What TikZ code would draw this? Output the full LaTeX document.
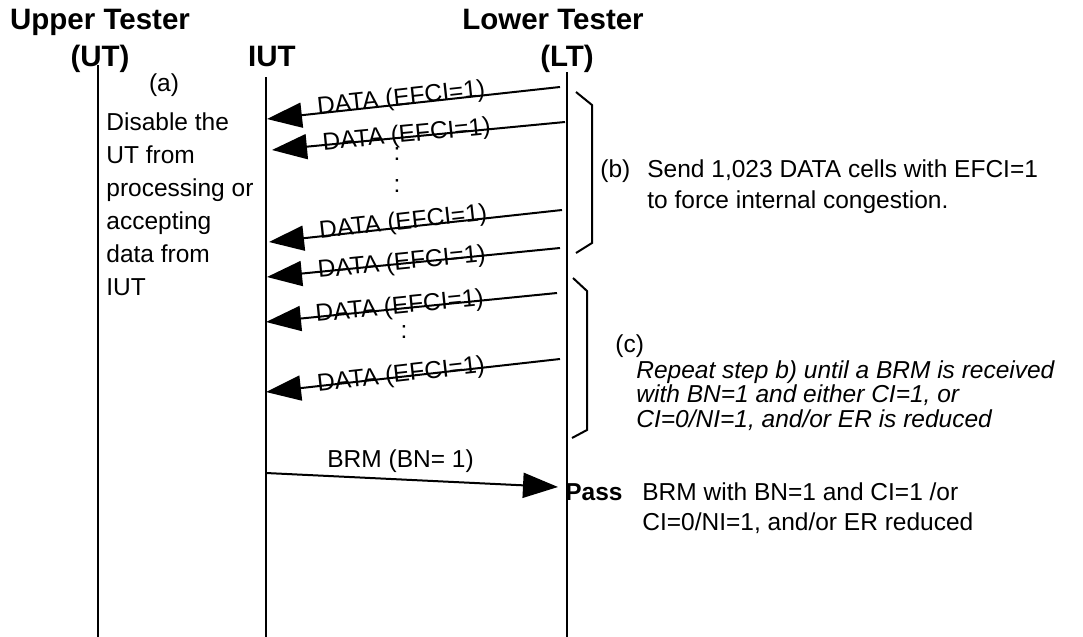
\documentclass[tikz,border=0pt]{standalone}
\usepackage{fontspec}
\setmainfont{Liberation Sans}
\usetikzlibrary{arrows.meta}

\begin{document}
\begin{tikzpicture}[x=0.5pt,y=0.5pt]
\tikzstyle{every node}+=[inner sep=0pt]
\tikzstyle{life}=[line width=1pt]
\tikzstyle{msg}=[line width=1pt,-{Triangle[length=17.5pt,width=12.5pt]}]
\tikzstyle{hdr}=[font=\fontsize{14.75}{17}\selectfont\bfseries,anchor=base]
\tikzstyle{txt}=[font=\fontsize{12.25}{15}\selectfont,anchor=base west,align=left]
\tikzstyle{lbl}=[font=\fontsize{12.25}{15}\selectfont,sloped,anchor=base,pos=0.54,yshift=-2.5pt]
\useasboundingbox (0,0) rectangle (1083,-637);
% testers
\node [hdr] (uthead) at (100,-30) {Upper Tester};
\node [hdr] (utname) at (100,-67) {(UT)};
\node [hdr] (iutname) at (272,-67) {IUT};
\node [hdr] (lthead) at (553,-30) {Lower Tester};
\node [hdr] (ltname) at (567,-67) {(LT)};
\coordinate (uttop) at (98,-65);
\coordinate (utbot) at (98,-637);
\coordinate (iuttop) at (266,-77);
\coordinate (iutbot) at (266,-637);
\coordinate (lttop) at (567,-72);
\coordinate (ltbot) at (567,-637);
\draw [life] (uttop) -- (utbot);
\draw [life] (iuttop) -- (iutbot);
\draw [life] (lttop) -- (ltbot);
% step (a), last line is the base
\node [txt,anchor=base] (stepa) at (164,-91) {(a)};
\node [txt,font=\fontsize{12.25}{16.5}\selectfont] (disable) at (106,-295) {Disable the\\UT from\\processing or\\accepting\\data from\\IUT};
% DATA cells
\coordinate (d1a) at (560,-87);
\coordinate (d1b) at (267,-119);
\coordinate (d2a) at (565,-122);
\coordinate (d2b) at (272,-150);
\coordinate (d3a) at (562,-210);
\coordinate (d3b) at (269,-242);
\coordinate (d4a) at (560,-248);
\coordinate (d4b) at (267,-277);
\coordinate (d5a) at (557,-293);
\coordinate (d5b) at (266,-322);
\coordinate (d6a) at (560,-359);
\coordinate (d6b) at (266,-392);
\draw [msg] (d1a) -- (d1b) node [lbl,yshift=2pt] {DATA (EFCI=1)};
\draw [msg] (d2a) -- (d2b) node [lbl] {DATA (EFCI=1)};
\draw [msg] (d3a) -- (d3b) node [lbl,yshift=1.5pt] {DATA (EFCI=1)};
\draw [msg] (d4a) -- (d4b) node [lbl,yshift=-0.5pt] {DATA (EFCI=1)};
\draw [msg] (d5a) -- (d5b) node [lbl] {DATA (EFCI=1)};
\draw [msg] (d6a) -- (d6b) node [lbl] {DATA (EFCI=1)};
\node [txt,anchor=center] (dots1) at (397,-154) {:};
\node [txt,anchor=center] (dots2) at (397,-186) {:};
\node [txt,anchor=center] (dots3) at (404,-332) {:};
% step (b)
\draw [life] (576,-92) -- (592,-105) -- (592,-243) -- (576,-253);
\node [txt] (stepb) at (600,-177) {(b)};
\node [txt,font=\fontsize{12.25}{15.5}\selectfont] (sendb) at (647,-208) {Send 1,023 DATA cells with EFCI=1\\to force internal congestion.};
% step (c)
\draw [life] (573,-278) -- (587,-291) -- (587,-430) -- (572,-438);
\node [txt] (stepc) at (615,-352) {(c)};
\node [txt,font=\fontsize{12.25}{12.25}\selectfont\itshape] (repeatc) at (636,-427) {Repeat step b) until a BRM is received\\with BN=1 and either CI=1, or\\CI=0/NI=1, and/or ER is reduced};
% BRM back
\coordinate (brma) at (266,-473);
\coordinate (brmb) at (558,-487);
\draw [msg] (brma) -- (brmb);
\node [txt] (brmlbl) at (327,-467) {BRM (BN= 1)};
\node [txt,font=\fontsize{12.25}{15}\selectfont\bfseries] (pass) at (565,-500) {Pass};
\node [txt] (passtxt) at (642,-530) {BRM with BN=1 and CI=1 /or\\CI=0/NI=1, and/or ER reduced};
\end{tikzpicture}
\end{document}
